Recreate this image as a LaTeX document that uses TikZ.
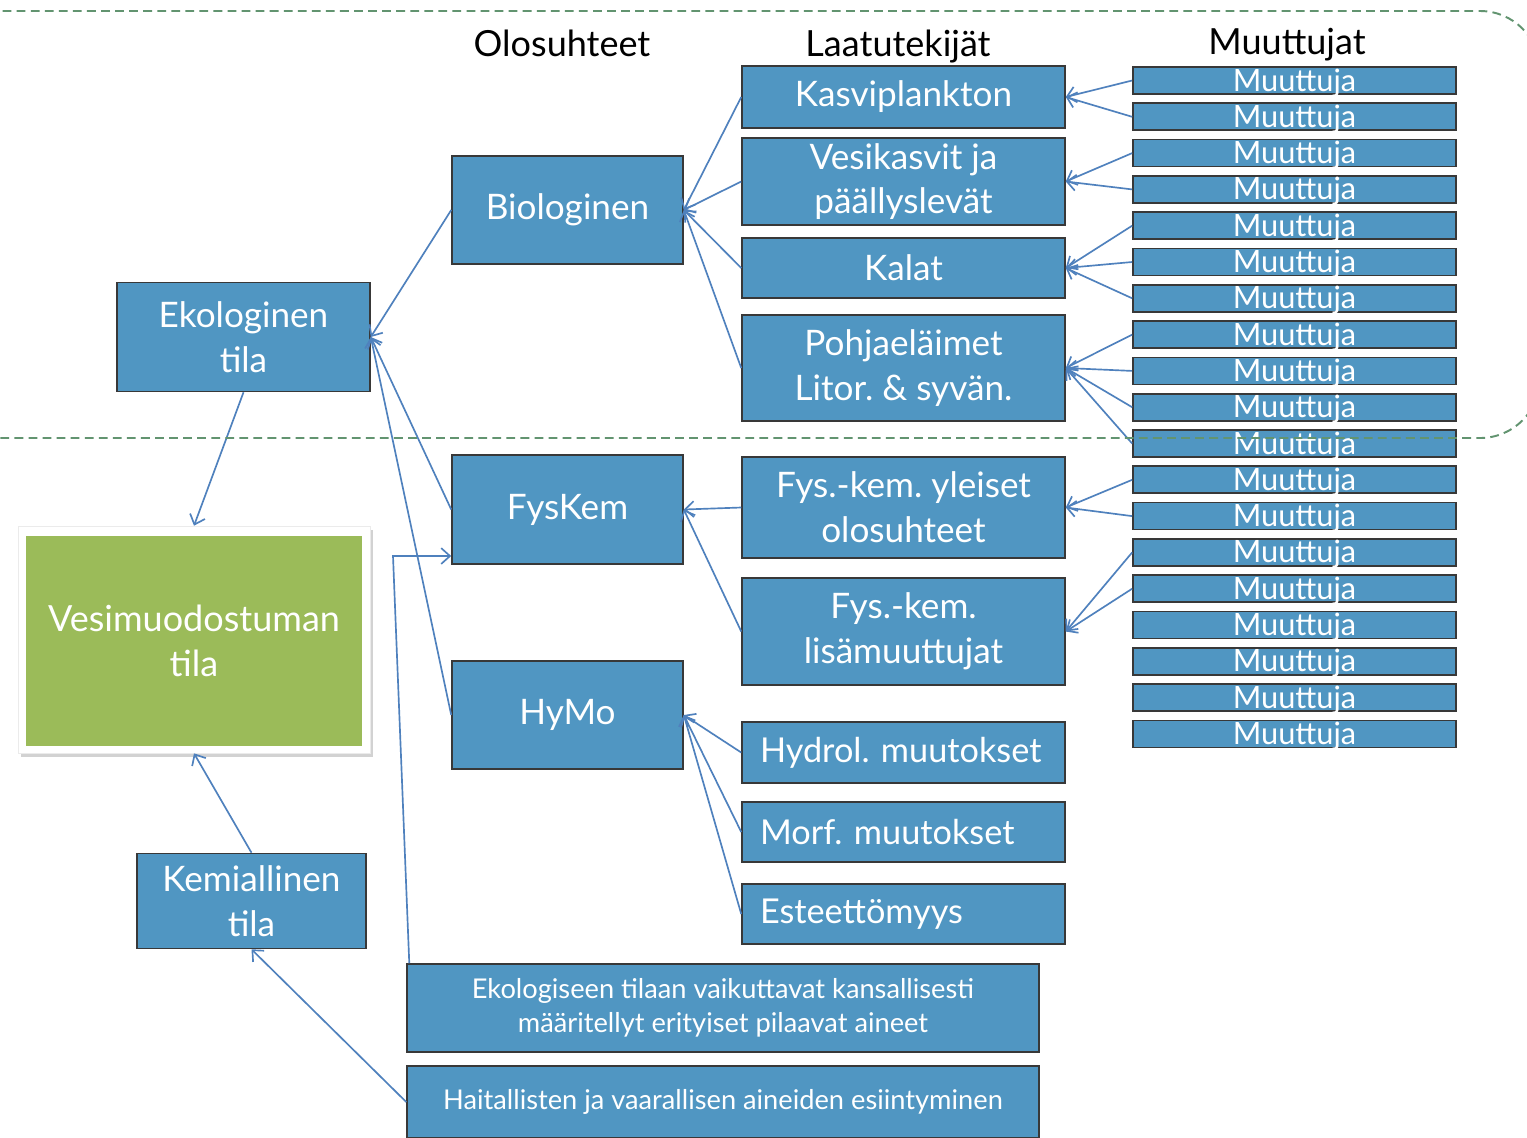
\documentclass[tikz,border=0pt]{standalone}
\usepackage{fontspec}
\setmainfont{Lato}
\usetikzlibrary{arrows.meta,shadows}
\definecolor{boxblue}{RGB}{80,150,194}
\definecolor{arrblue}{RGB}{79,129,189}
\definecolor{grn}{RGB}{155,187,89}
\definecolor{dashgrn}{RGB}{98,148,112}
\frenchspacing
\begin{document}
\begin{tikzpicture}[x=0.02cm,y=-0.02cm,
  box/.style={draw=black!78, line width=0.9pt, fill=boxblue, text=white, inner sep=2pt, align=center, font=\fontsize{20}{25.5}\selectfont},
  lbox/.style={box, minimum width=6.46cm, inner xsep=0.36cm, text width=5.74cm, align=left, font=\fontsize{19.5}{24}\selectfont},
  mu/.style={draw=black!78, line width=1pt, fill=boxblue, text=white, minimum width=6.46cm, minimum height=0.54cm, inner sep=0pt, text height=12pt, text depth=0pt, font=\fontsize{17.5}{18}\selectfont},
  hdr/.style={text=black, font=\fontsize{20.5}{24}\selectfont, inner sep=0pt},
  small/.style={box, font=\fontsize{15.5}{19.5}\selectfont},
  arr/.style={draw=arrblue, line width=0.95pt, -{Straight Barb[length=5pt,width=9pt]}}]
\useasboundingbox (0,0) rectangle (1527,1137);
\fill[white] (0,0) rectangle (1527,1137);

% headers
\node[hdr, anchor=base] (h1) at (562,56) {Olosuhteet};
\node[hdr, anchor=base] (h2) at (898,56) {Laatutekijät};
\node[hdr, anchor=base] (h3) at (1287,54) {Muuttujat};

% left column
\node[box, minimum width=5.06cm, minimum height=2.18cm] (ekol) at (243.5,337) {Ekologinen\\tila};
\node[fill=white, draw=black!8, line width=0.4pt, drop shadow={shadow xshift=1.5pt, shadow yshift=-2.5pt, opacity=0.35}, minimum width=7.04cm, minimum height=4.54cm, inner sep=0pt] (vframe) at (194,639.5) {};
\node[fill=grn, text=white, align=center, font=\fontsize{20.5}{26}\selectfont, minimum width=6.72cm, minimum height=4.22cm, inner sep=0pt] (vesi) at (194,641) {Vesimuodostuman\\tila};
\node[box, minimum width=4.58cm, minimum height=1.9cm] (kem) at (251.5,901) {Kemiallinen\\tila};

% olosuhteet
\node[box, minimum width=4.62cm, minimum height=2.16cm] (bio) at (567.5,210) {Biologinen};
\node[box, minimum width=4.62cm, minimum height=2.18cm] (fys) at (567.5,509.5) {FysKem};
\node[box, minimum width=4.62cm, minimum height=2.16cm] (hymo) at (567.5,715) {HyMo};

% laatutekijat
\node[box, minimum width=6.46cm, minimum height=1.24cm] (kasvi) at (903.5,97) {Kasviplankton};
\node[box, minimum width=6.46cm, minimum height=1.74cm] (vesik) at (903.5,181.5) {Vesikasvit ja\\päällyslevät};
\node[box, minimum width=6.46cm, minimum height=1.2cm] (kalat) at (903.5,268) {Kalat};
\node[box, minimum width=6.46cm, minimum height=2.12cm] (pohja) at (903.5,368) {Pohjaeläimet\\Litor. \& syvän.};
\node[box, minimum width=6.46cm, minimum height=2.02cm] (fky) at (903.5,507.5) {Fys.-kem. yleiset\\olosuhteet};
\node[box, minimum width=6.46cm, minimum height=2.14cm] (flis) at (903.5,631.5) {Fys.-kem.\\lisämuuttujat};
\node[lbox, minimum height=1.22cm] (hyd) at (903.5,752.5) {\mbox{Hydrol. muutokset}};
\node[lbox, minimum height=1.2cm] (morf) at (903.5,832) {\mbox{Morf. muutokset}};
\node[lbox, minimum height=1.2cm] (este) at (903.5,914) {\mbox{Esteettömyys}};

% bottom boxes
\node[small, minimum width=12.64cm, minimum height=1.76cm] (eko2) at (723,1008) {Ekologiseen tilaan vaikuttavat kansallisesti\\määritellyt erityiset pilaavat aineet};
\node[small, minimum width=12.64cm, minimum height=1.44cm] (hait) at (723,1102) {Haitallisten ja vaarallisen aineiden esiintyminen};

% muuttujat
\foreach \i in {1,...,19}
  \node[mu] (mu\i) at (1294.5,{80.5+36.3*(\i-1)}) {Muuttuja};

% arrows muuttujat -> laatutekijat
\draw[arr] (mu1.west) -- (kasvi.east);
\draw[arr] (mu2.west) -- (kasvi.east);
\draw[arr] (mu3.west) -- (vesik.east);
\draw[arr] (mu4.west) -- (vesik.east);
\draw[arr] (mu5.west) -- (kalat.east);
\draw[arr] (mu6.west) -- (kalat.east);
\draw[arr] (mu7.west) -- (kalat.east);
\draw[arr] (mu8.west) -- (pohja.east);
\draw[arr] (mu9.west) -- (pohja.east);
\draw[arr] (mu10.west) -- (pohja.east);
\draw[arr] (mu11.west) -- (pohja.east);
\draw[arr] (mu12.west) -- (fky.east);
\draw[arr] (mu13.west) -- (fky.east);
\draw[arr] (mu14.west) -- (flis.east);
\draw[arr] (mu15.west) -- (flis.east);

% laatutekijat -> olosuhteet
\draw[arr] (kasvi.west) -- (bio.east);
\draw[arr] (vesik.west) -- (bio.east);
\draw[arr] (kalat.west) -- (bio.east);
\draw[arr] (pohja.west) -- (bio.east);
\draw[arr] (fky.west) -- (fys.east);
\draw[arr] (flis.west) -- (fys.east);
\draw[arr] (hyd.west) -- (hymo.east);
\draw[arr] (morf.west) -- (hymo.east);
\draw[arr] (este.west) -- (hymo.east);

% olosuhteet -> ekologinen
\draw[arr] (bio.west) -- (ekol.east);
\draw[arr] (fys.west) -- (ekol.east);
\draw[arr] (hymo.west) -- (ekol.east);
\coordinate (elb) at (393,556);
\draw[arr] ([xshift=0.06cm]eko2.north west) -- (elb) -- (elb -| fys.west);

% to vesimuodostuman tila
\draw[arr] (ekol.south) -- (vframe.north);
\draw[arr] (kem.north) -- (vframe.south);
\draw[arr] (hait.west) -- (kem.south);

% dashed region
\begin{scope}
\clip (0,0) rectangle (1527,1137);
\draw[dashgrn, line width=1.1pt, dash pattern=on 5pt off 3pt, rounded corners=1.2cm] (-80,11) rectangle (1540,438);
\end{scope}
\end{tikzpicture}
\end{document}
